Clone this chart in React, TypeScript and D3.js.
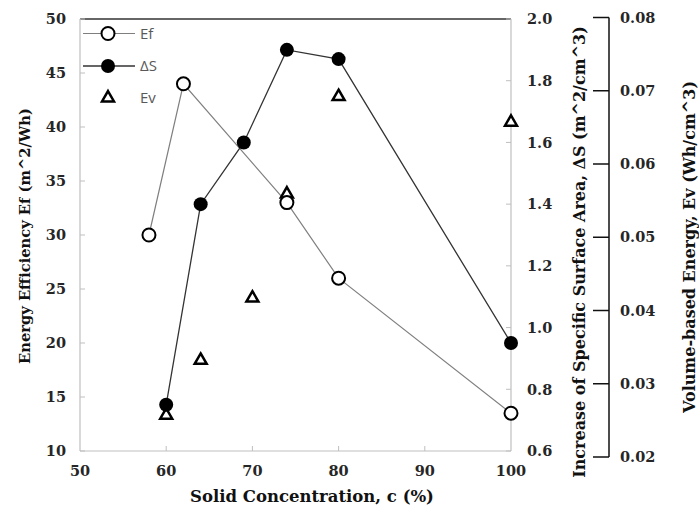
import React from "react";
import * as d3 from "d3";

// Solid concentration (%) for each series
const efConc = [58, 62, 74, 80, 100];
const efValues = [30, 44, 33, 26, 13.5];

const dsConc = [60, 64, 69, 74, 80, 100];
const dsValues = [0.75, 1.4, 1.6, 1.9, 1.87, 0.95];

const evConc = [60, 64, 70, 74, 80, 100];
const evValues = [0.0257, 0.0332, 0.0417, 0.0559, 0.0692, 0.0657];

const xTicks = [50, 60, 70, 80, 90, 100];
const efTicks = [10, 15, 20, 25, 30, 35, 40, 45, 50];
const dsTicks = [0.6, 0.8, 1.0, 1.2, 1.4, 1.6, 1.8, 2.0];
const evTicks = [0.02, 0.03, 0.04, 0.05, 0.06, 0.07, 0.08];

const W = 699;
const H = 506;
const serif = "'DejaVu Serif', serif";
const tickFont = { fontFamily: serif, fontSize: 14.5, fontWeight: "bold" as const, fill: "#262626" };
const titleFont = { fontFamily: serif, fontWeight: "bold" as const, fill: "#111" };

export default function App() {
  const x = d3.scaleLinear().domain([50, 100]).range([80, 511]);
  const yL = d3.scaleLinear().domain([10, 50]).range([451, 19]);
  const yS = d3.scaleLinear().domain([0.6, 2.0]).range([451, 19]);
  const yE = d3.scaleLinear().domain([0.02, 0.08]).range([457, 17.5]);

  const efPts: [number, number][] = efConc.map((c, i) => [x(c), yL(efValues[i])]);
  const dsPts: [number, number][] = dsConc.map((c, i) => [x(c), yS(dsValues[i])]);
  const evPts: [number, number][] = evConc.map((c, i) => [x(c), yE(evValues[i])]);

  const line = d3.line();
  const tri = d3.symbol().type(d3.symbolTriangle).size(62)();

  const [x0, x1] = x.range();
  const [yB, yT] = yL.range();
  const evX = 609;

  return (
    <svg
      width={W}
      height={H}
      style={{ position: "absolute", left: 0, top: 0, background: "#fff" }}
    >
      {/* frame */}
      <line x1={x0} y1={yT} x2={x1} y2={yT} stroke="#333" strokeWidth={1.5} />
      <line x1={x0} y1={yT} x2={x0} y2={yB} stroke="#bfbfbf" strokeWidth={1.2} />
      <line x1={x1} y1={yT} x2={x1} y2={yB} stroke="#bfbfbf" strokeWidth={1.2} />
      <line x1={x0} y1={yB} x2={x1} y2={yB} stroke="#bfbfbf" strokeWidth={1.2} />

      {/* left axis */}
      {efTicks.map((t) => (
        <g key={"l" + t}>
          <line x1={x0} x2={x0 + 5} y1={yL(t)} y2={yL(t)} stroke="#bfbfbf" />
          <text x={66} y={yL(t)} dy="0.36em" textAnchor="end" {...tickFont}>
            {t}
          </text>
        </g>
      ))}

      {/* right axis, ΔS */}
      {dsTicks.map((t) => (
        <g key={"r" + t}>
          <line x1={x1 - 5} x2={x1} y1={yS(t)} y2={yS(t)} stroke="#bfbfbf" />
          <text x={527} y={yS(t)} dy="0.36em" textAnchor="start" {...tickFont}>
            {t.toFixed(1)}
          </text>
        </g>
      ))}

      {/* bottom axis */}
      {xTicks.map((t) => (
        <g key={"b" + t}>
          {t > 50 && t < 100 && (
            <line x1={x(t)} x2={x(t)} y1={yB} y2={yB - 5} stroke="#bfbfbf" />
          )}
          <text x={x(t)} y={476} textAnchor="middle" {...tickFont}>
            {t}
          </text>
        </g>
      ))}

      {/* offset axis, Ev */}
      <line
        x1={evX}
        x2={evX}
        y1={yE.range()[1]}
        y2={yE.range()[0]}
        stroke="#111"
        strokeWidth={1.5}
      />
      {evTicks.map((t) => (
        <g key={"e" + t}>
          <line x1={evX - 16} x2={evX} y1={yE(t)} y2={yE(t)} stroke="#111" strokeWidth={1.5} />
          <text x={620} y={yE(t)} dy="0.36em" textAnchor="start" {...tickFont}>
            {t.toFixed(2)}
          </text>
        </g>
      ))}

      {/* axis titles */}
      <text
        transform="translate(30,236) rotate(-90)"
        textAnchor="middle"
        fontSize={14.7}
        {...titleFont}
      >
        Energy Efficiency Ef (m^2/Wh)
      </text>
      <text
        transform="translate(585,252) rotate(-90)"
        textAnchor="middle"
        fontSize={16}
        {...titleFont}
      >
        Increase of Specific Surface Area, ΔS (m^2/cm^3)
      </text>
      <text
        transform="translate(695,247) rotate(-90)"
        textAnchor="middle"
        fontSize={16}
        {...titleFont}
      >
        Volume-based Energy, Ev (Wh/cm^3)
      </text>
      <text x={312} y={502} textAnchor="middle" fontSize={16.5} {...titleFont}>
        Solid Concentration, c (%)
      </text>

      {/* series lines */}
      <path d={line(efPts) || ""} fill="none" stroke="#7f7f7f" strokeWidth={1.2} />
      <path d={line(dsPts) || ""} fill="none" stroke="#333" strokeWidth={1.3} />

      {/* markers */}
      {evPts.map((p, i) => (
        <path
          key={"ev" + i}
          d={tri || ""}
          transform={`translate(${p[0]},${p[1]})`}
          fill="#fff"
          stroke="#000"
          strokeWidth={2.5}
        />
      ))}
      {efPts.map((p, i) => (
        <circle key={"ef" + i} cx={p[0]} cy={p[1]} r={6.5} fill="#fff" stroke="#000" strokeWidth={2} />
      ))}
      {dsPts.map((p, i) => (
        <circle key={"ds" + i} cx={p[0]} cy={p[1]} r={7} fill="#000" />
      ))}

      {/* legend */}
      <g fontFamily="'Open Sans', sans-serif" fontSize={15} fill="#595959">
        <line x1={83} x2={135} y1={33.5} y2={33.5} stroke="#7f7f7f" strokeWidth={1.2} />
        <circle cx={108} cy={33.5} r={6.5} fill="#fff" stroke="#000" strokeWidth={2} />
        <text x={140} y={33.5} dy="0.35em">Ef</text>

        <line x1={83} x2={135} y1={66} y2={66} stroke="#333" strokeWidth={1.3} />
        <circle cx={108} cy={66} r={7} fill="#000" />
        <text x={140} y={66} dy="0.35em">ΔS</text>

        <path
          d={tri || ""}
          transform="translate(108,98)"
          fill="#fff"
          stroke="#000"
          strokeWidth={2.5}
        />
        <text x={140} y={98} dy="0.35em">Ev</text>
      </g>
    </svg>
  );
}
